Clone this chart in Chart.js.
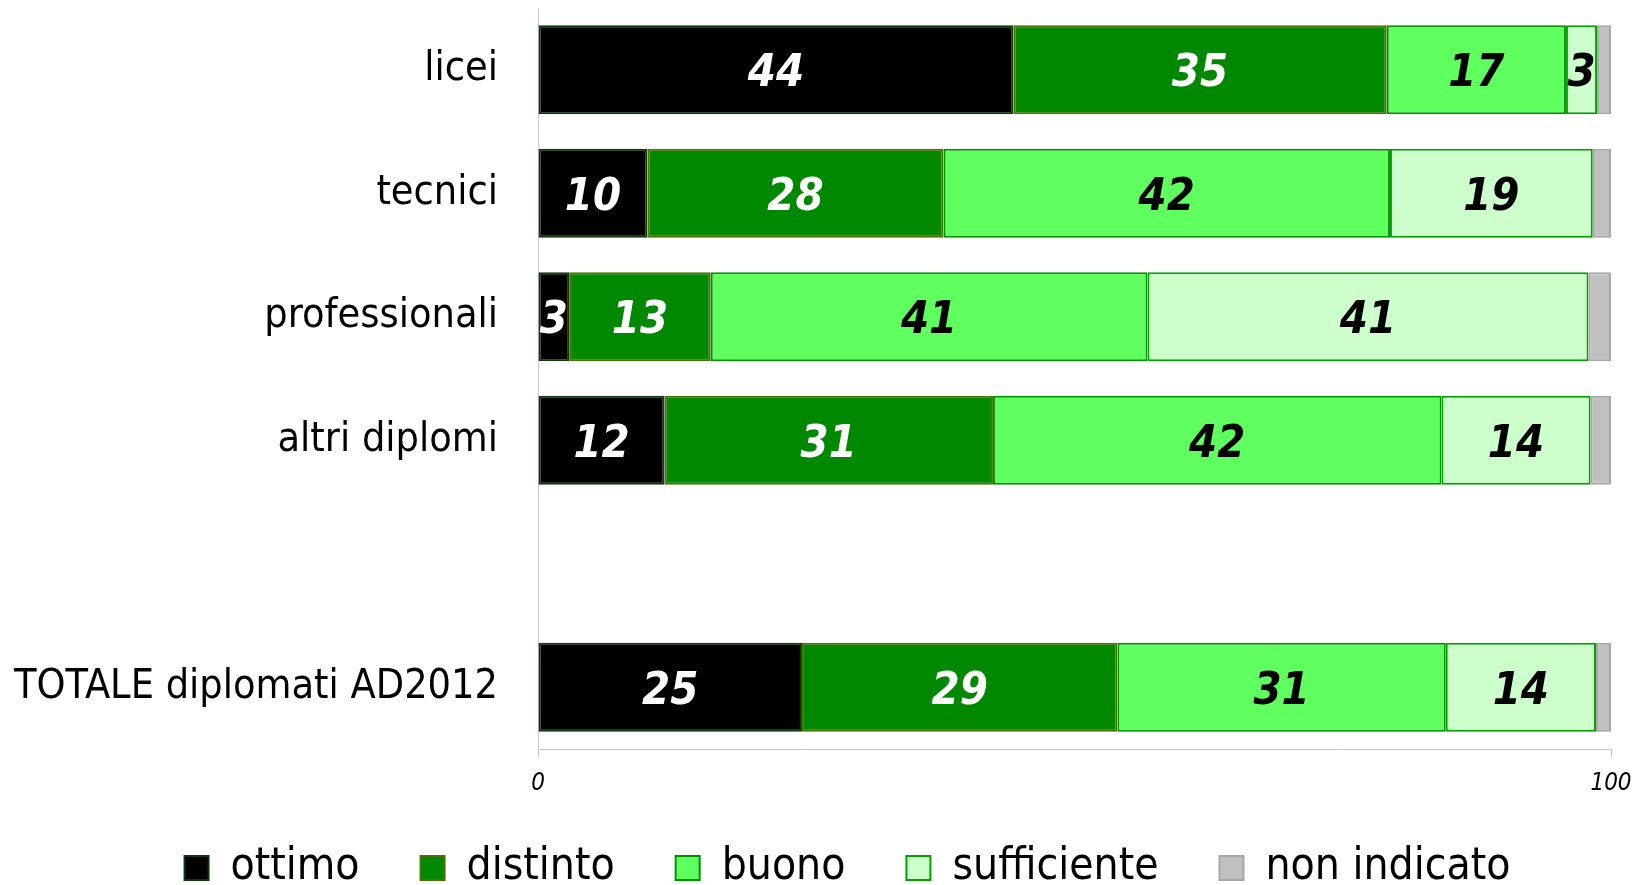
<!DOCTYPE html>
<html lang="it">
<head>
    <meta charset="UTF-8">
    <title>Voto di diploma per tipo di scuola</title>
    <style>
        body {
            margin: 0;
            background-color: #fff;
        }
        #wrap {
            width: 1637px;
            height: 885px;
        }
    </style>
    <script src="https://cdn.jsdelivr.net/npm/chart.js"></script>
</head>
<body>
    <div id="wrap">
        <canvas id="chart"></canvas>
    </div>

    <script>
        // categories (the empty one is the gap before the total)
        const categories = ['licei', 'tecnici', 'professionali', 'altri diplomi', '', 'TOTALE diplomati AD2012'];

        // percentages
        const ottimo      = [44.3, 10.2,  2.9, 11.8, null, 24.6];
        const distinto    = [34.8, 27.6, 13.2, 30.6, null, 29.4];
        const buono       = [16.7, 41.6, 40.7, 41.8, null, 30.6];
        const sufficiente = [ 2.9, 18.9, 41.1, 13.9, null, 14.0];
        const nonIndicato = [ 1.3,  1.7,  2.1,  1.9, null,  1.4];

        const xTicks = [0, 100];

        const FONT = '"DejaVu Sans Condensed", "DejaVu Sans", sans-serif';
        Chart.defaults.font.family = FONT;
        Chart.defaults.color = '#000';

        // white or black numbers inside the bars
        const labelColors = ['#fff', '#fff', '#000', '#000', null];

        const barLabels = {
            id: 'barLabels',
            afterDatasetsDraw(chart) {
                const ctx = chart.ctx;
                ctx.save();
                ctx.font = 'italic bold 45px ' + FONT;
                ctx.textAlign = 'center';
                ctx.textBaseline = 'middle';
                chart.data.datasets.forEach((ds, i) => {
                    if (!labelColors[i]) return;
                    const meta = chart.getDatasetMeta(i);
                    meta.data.forEach((bar, j) => {
                        const v = ds.data[j];
                        if (v == null) return;
                        ctx.fillStyle = labelColors[i];
                        ctx.fillText(Math.round(v), (bar.x + bar.base) / 2, bar.y + 5);
                    });
                });
                ctx.restore();
            }
        };

        // wide gaps between legend items without a tall legend box,
        // then nudge the legend up and to the right
        const legendSize = {
            id: 'legendSize',
            afterInit(chart) {
                const legend = chart.legend;
                const fit = legend.fit;
                legend.fit = function () {
                    fit.call(this);
                    this.height = 86;
                };
            },
            afterLayout(chart) {
                const legend = chart.legend;
                legend.top -= 14;
                legend.left += 42;
                legend.right += 42;
            }
        };

        function makeSet(label, data, fill, border) {
            return {
                label: label,
                data: data,
                backgroundColor: fill,
                borderColor: border,
                borderWidth: 2,
                borderSkipped: false,
                barPercentage: 0.72,
                categoryPercentage: 1
            };
        }

        const ctx = document.getElementById('chart').getContext('2d');
        new Chart(ctx, {
            type: 'bar',
            data: {
                labels: categories,
                datasets: [
                    makeSet('ottimo', ottimo, '#000000', '#0c3a0c'),
                    makeSet('distinto', distinto, '#008800', '#4d7200'),
                    makeSet('buono', buono, '#5fff5f', '#009000'),
                    makeSet('sufficiente', sufficiente, '#ccffcc', '#00a000'),
                    makeSet('non indicato', nonIndicato, '#c0c0c0', '#a6a6a6')
                ]
            },
            options: {
                indexAxis: 'y',
                responsive: true,
                maintainAspectRatio: false,
                animation: false,
                layout: {
                    padding: { top: 8, right: 26, left: 0, bottom: 0 }
                },
                scales: {
                    x: {
                        stacked: true,
                        min: 0,
                        max: 100,
                        afterBuildTicks: s => { s.ticks = xTicks.map(v => ({ value: v })); },
                        afterFit: s => {
                            s.height = 50;
                            s.paddingLeft = 0;
                            s.paddingRight = 0;
                        },
                        grid: {
                            drawOnChartArea: false,
                            color: '#bfbfbf',
                            tickLength: 8
                        },
                        border: { color: '#c8c8c8' },
                        ticks: {
                            font: { size: 24, style: 'italic' },
                            padding: 12,
                            maxRotation: 0
                        }
                    },
                    y: {
                        stacked: true,
                        afterFit: s => {
                            s.width = 538;
                            s.paddingTop = 0;
                            s.paddingBottom = 0;
                        },
                        grid: { display: false },
                        border: { color: '#c8c8c8' },
                        ticks: {
                            font: { size: 41 },
                            padding: 32
                        }
                    }
                },
                plugins: {
                    legend: {
                        position: 'bottom',
                        labels: {
                            font: { size: 44 },
                            boxWidth: 24,
                            boxHeight: 24,
                            padding: 61,
                            useBorderRadius: false
                        }
                    },
                    tooltip: { enabled: false }
                }
            },
            plugins: [barLabels, legendSize]
        });
    </script>
</body>
</html>
